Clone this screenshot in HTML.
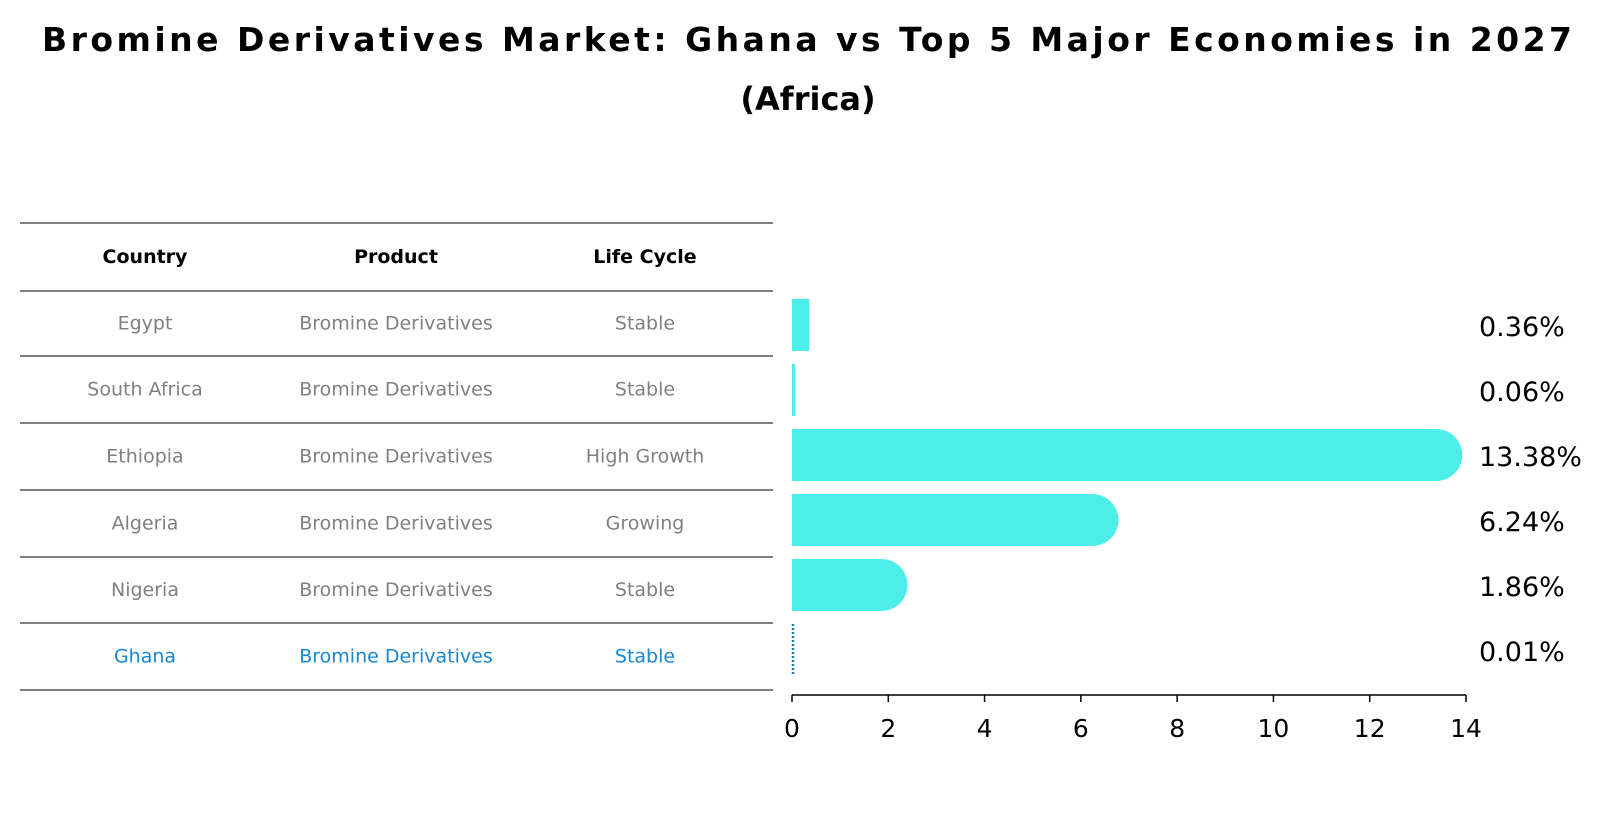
<!DOCTYPE html>
<html><head><meta charset="utf-8"><style>
html,body{margin:0;padding:0;background:#fff;}
svg{display:block;font-family:"DejaVu Sans","Liberation Sans",sans-serif;}
</style></head><body>
<svg id="chart" width="1604" height="823" viewBox="0 0 1604 823">
<text x="807" y="51" text-anchor="middle" font-size="33" font-weight="bold" textLength="1530" lengthAdjust="spacing">Bromine Derivatives Market: Ghana vs Top 5 Major Economies in 2027</text>
<text x="808" y="110" text-anchor="middle" font-size="32" font-weight="bold">(Africa)</text>
<g id="table"></g>
<g id="bars"></g>
</svg>
<script>
const countries = ["Egypt","South Africa","Ethiopia","Algeria","Nigeria","Ghana"];
const products = ["Bromine Derivatives","Bromine Derivatives","Bromine Derivatives","Bromine Derivatives","Bromine Derivatives","Bromine Derivatives"];
const lifeCycles = ["Stable","Stable","High Growth","Growing","Stable","Stable"];
const values = [0.36,0.06,13.38,6.24,1.86,0.01];
const valueLabels = ["0.36%","0.06%","13.38%","6.24%","1.86%","0.01%"];
const xTicks = [0,2,4,6,8,10,12,14];
const headers = ["Country","Product","Life Cycle"];

const NS="http://www.w3.org/2000/svg";
function mk(tag,attrs,parent){const e=document.createElementNS(NS,tag);for(const k in attrs)e.setAttribute(k,attrs[k]);parent.appendChild(e);return e;}
const table=document.getElementById('table');
const bars=document.getElementById('bars');
const colX=[145,396,645];
const lineY=[223,291,356,423,490,557,623,690];
lineY.forEach((y,i)=>{
  const l=mk('line',{x1:20,x2:773,y1:y,y2:y,stroke:'#000','stroke-width':1},table);
  
  
});
headers.forEach((h,i)=>{
  const t=mk('text',{x:colX[i],y:263,'text-anchor':'middle','font-size':19,'font-weight':'bold'},table);
  t.textContent=h;
  
  
});
countries.forEach((c,i)=>{
  const cy=(lineY[i+1]+lineY[i+2])/2+6;
  const col=(c==="Ghana")?'#1a86d0':'#808080';
  [c,products[i],lifeCycles[i]].forEach((v,j)=>{
    const t=mk('text',{x:colX[j],y:cy,'text-anchor':'middle','font-size':19,fill:col},table);
    t.textContent=v;
    
    
  });
});
const x0=792,x1=1466,xMax=14;
const xs=v=>x0+(x1-x0)*v/xMax;
const rowY=i=>325+65*i;
const bh=52;
const ax=mk('line',{x1:x0,x2:x1,y1:695,y2:695,stroke:'#000','stroke-width':1.5},bars);


xTicks.forEach(v=>{
  const tk=mk('line',{x1:xs(v),x2:xs(v),y1:695,y2:702,stroke:'#000','stroke-width':1.5},bars);
  
  
  const t=mk('text',{x:xs(v),y:737,'text-anchor':'middle','font-size':25},bars);
  t.textContent=v;
  
  
});
values.forEach((v,i)=>{
  const cy=rowY(i);
  let el;
  if(countries[i]==="Ghana"){
    el=mk('line',{x1:xs(0)+1,x2:xs(0)+1,y1:cy-bh/2,y2:cy+bh/2,stroke:'#1f77b4','stroke-width':2.5,'stroke-dasharray':'2,2'},bars);
  } else if(v>1){
    const w=xs(v)-x0, r=bh/2;
    el=mk('path',{d:`M${x0},${cy-r} H${x0+w} A${r},${r} 0 0 1 ${x0+w},${cy+r} H${x0} Z`,fill:'#4deeea'},bars);
  } else {
    el=mk('rect',{x:x0,y:cy-bh/2,width:Math.max(xs(v)-x0,2.5),height:bh,fill:'#4deeea'},bars);
  }
  
  
  const t=mk('text',{x:1479,y:cy+11,'font-size':27},bars);
  t.textContent=valueLabels[i];
  
  
});
</script>
</body></html>
